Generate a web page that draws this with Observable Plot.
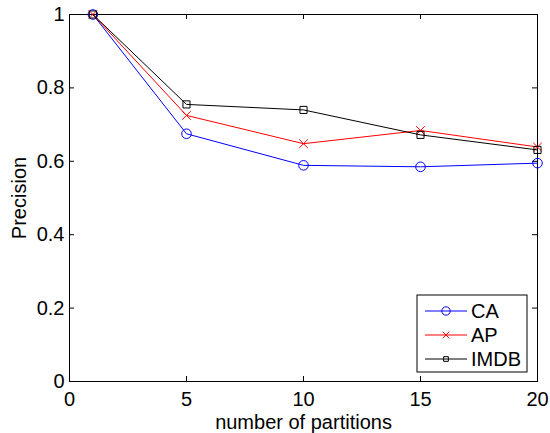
<!DOCTYPE html>
<html>
<head>
<meta charset="utf-8">
<script src="https://cdn.jsdelivr.net/npm/d3@7"></script>
<script src="https://cdn.jsdelivr.net/npm/@observablehq/plot@0.6"></script>
<style>
  html, body { margin: 0; padding: 0; background: #fff; }
  #chart { width: 550px; height: 433px; }
</style>
</head>
<body>
<div id="chart"></div>
<script>
const partitions = [1, 5, 10, 15, 20];
const caValues = [1, 0.675, 0.589, 0.585, 0.595];
const apValues = [1, 0.725, 0.648, 0.684, 0.639];
const imdbValues = [1, 0.755, 0.740, 0.672, 0.631];
const seriesNames = ["CA", "AP", "IMDB"];
const seriesColors = ["#0000ff", "#ff0000", "#000000"];
const seriesSymbols = ["circle", "times", "square"];
const xTicks = [0, 5, 10, 15, 20];
const yTicks = [0, 0.2, 0.4, 0.6, 0.8, 1];

const allValues = [caValues, apValues, imdbValues];
const rows = [];
seriesNames.forEach((name, i) => {
  partitions.forEach((p, j) => rows.push({series: name, x: p, y: allValues[i][j]}));
});

const W = 550, H = 433, mt = 14, mr = 13, mb = 52, ml = 69;
const innerH = H - mt - mb, innerW = W - ml - mr;
const T = 5;
const fmt = d => String(d);
const FONT = "'Liberation Sans', Arial, sans-serif";

const marks = [
  Plot.frame({stroke: "black", strokeWidth: 1}),
  Plot.axisX(xTicks, {anchor: "bottom", tickSize: 0, tickPadding: 10, tickFormat: fmt, fontSize: 20,
    label: "number of partitions", labelAnchor: "center", labelOffset: 47, labelArrow: "none"}),
  Plot.axisY(yTicks, {anchor: "left", tickSize: 0, tickPadding: 5, tickFormat: fmt, fontSize: 20,
    label: "Precision", labelAnchor: "center", labelOffset: 58, labelArrow: "none"}),
  Plot.tickX(xTicks, {x: d => d, stroke: "black", insetTop: innerH - T}),
  Plot.tickX(xTicks, {x: d => d, stroke: "black", insetBottom: innerH - T}),
  Plot.tickY(yTicks, {y: d => d, stroke: "black", insetRight: innerW - T}),
  Plot.tickY(yTicks, {y: d => d, stroke: "black", insetLeft: innerW - T})
];
seriesNames.forEach((name, i) => {
  const data = rows.filter(r => r.series === name);
  marks.push(Plot.line(data, {x: "x", y: "y", stroke: seriesColors[i], strokeWidth: 1}));
  marks.push(Plot.dot(data, {x: "x", y: "y", stroke: seriesColors[i], fill: "none",
    symbol: seriesSymbols[i], r: i === 0 ? 4.8 : 4, strokeWidth: 1}));
});

const plot = Plot.plot({
  width: W, height: H,
  marginTop: mt, marginRight: mr, marginBottom: mb, marginLeft: ml,
  style: {fontFamily: FONT, fontSize: "20px", color: "black", background: "white"},
  x: {domain: [0, 20]},
  y: {domain: [0, 1]},
  marks
});
document.getElementById("chart").appendChild(plot);

// Legend
const svg = d3.select(plot);
const lg = svg.append("g").attr("font-family", FONT).attr("font-size", 20)
  .attr("text-anchor", "start");
lg.append("rect").attr("x", 417).attr("y", 295).attr("width", 110).attr("height", 77)
  .attr("fill", "white").attr("stroke", "black").attr("stroke-width", 1);
const rowY = [311, 335, 359];
seriesNames.forEach((name, i) => {
  const y = rowY[i];
  lg.append("line").attr("x1", 425).attr("x2", 467).attr("y1", y).attr("y2", y)
    .attr("stroke", seriesColors[i]).attr("stroke-width", 1);
  const sym = i === 0 ? d3.symbolCircle : i === 1 ? d3.symbolTimes : d3.symbolSquare;
  const size = i === 0 ? 55 : i === 1 ? 30 : 22;
  lg.append("path").attr("d", d3.symbol(sym, size)()).attr("transform", `translate(446,${y})`)
    .attr("fill", "none").attr("stroke", seriesColors[i]).attr("stroke-width", 1);
  lg.append("text").attr("x", 471).attr("y", y).attr("dy", "0.35em").text(name);
});
</script>
</body>
</html>
